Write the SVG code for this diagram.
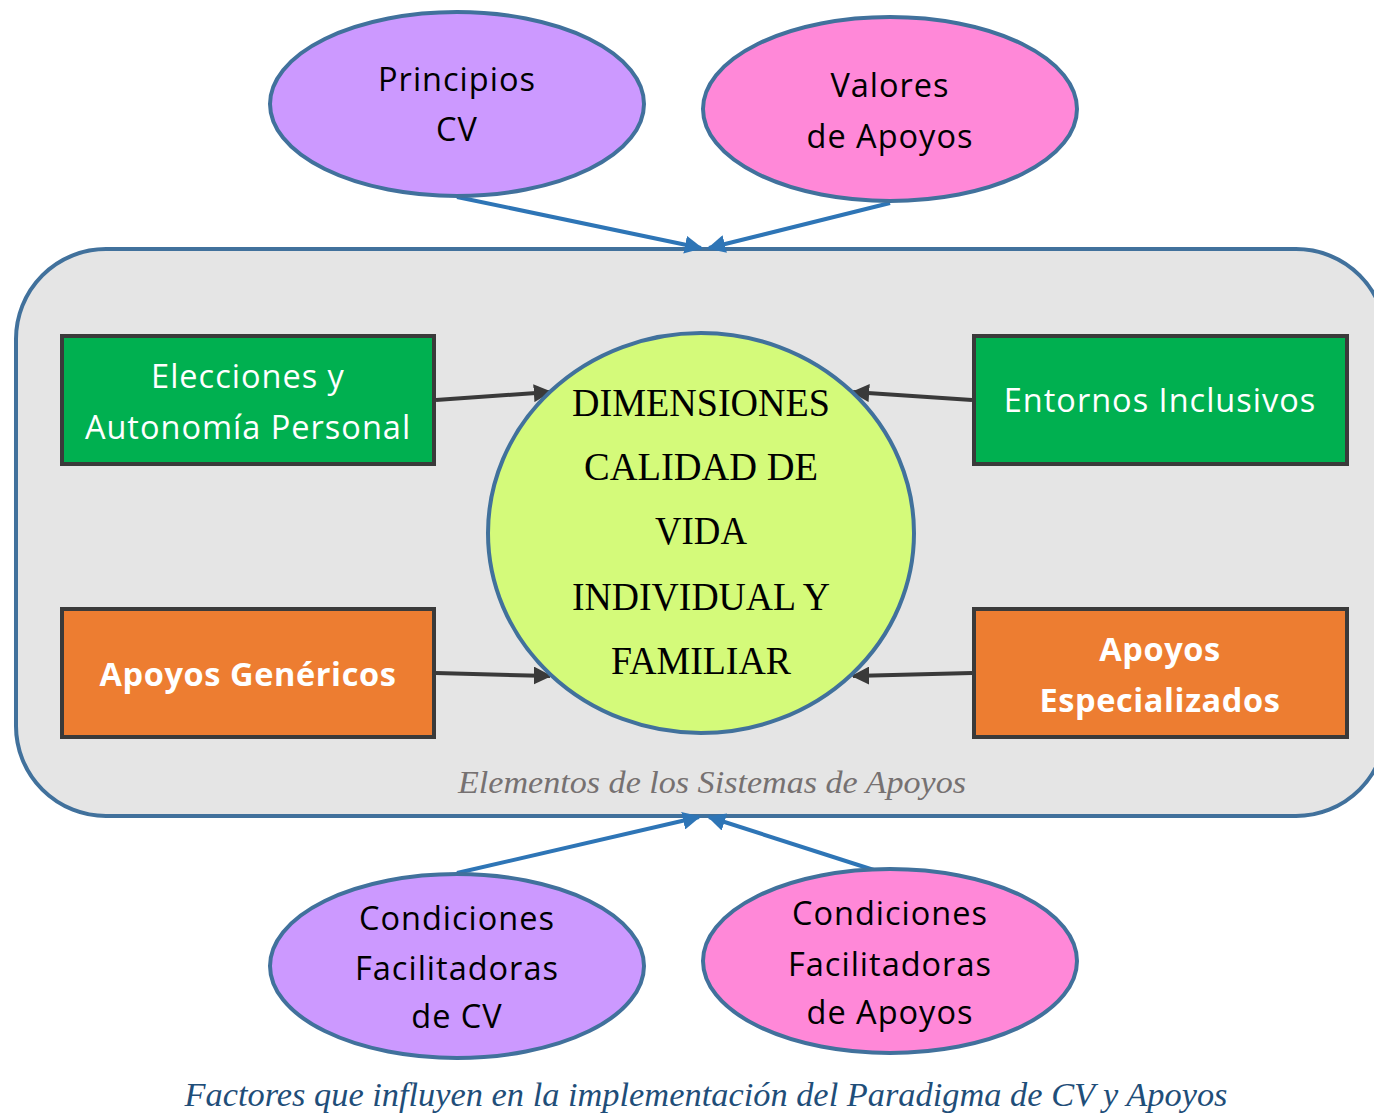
<svg xmlns="http://www.w3.org/2000/svg" width="1374" height="1117" viewBox="0 0 1374 1117">
<style>
.ell{stroke:#41719c;stroke-width:4}
.box{stroke:#3a3a3a;stroke-width:4}
.t{font-family:"Open Sans","DejaVu Sans",sans-serif;font-size:32.5px;letter-spacing:1px;text-anchor:middle}
.w{fill:#fff}
.b{font-weight:bold;letter-spacing:0.6px}
.blue{stroke:#2e75b6;stroke-width:4;fill:none}
.dark{stroke:#3a3a3a;stroke-width:4;fill:none}
.ctr{font-family:"Liberation Serif","DejaVu Serif",serif;font-size:40px;text-anchor:middle;fill:#000}
</style>
<defs>
<marker id="ab" viewBox="0 0 10 10" refX="9" refY="5" markerWidth="4.5" markerHeight="4.5" orient="auto" markerUnits="strokeWidth"><path d="M0,0L10,5L0,10z" fill="#2e75b6"/></marker>
<marker id="ad" viewBox="0 0 10 10" refX="9" refY="5" markerWidth="4.5" markerHeight="4.5" orient="auto" markerUnits="strokeWidth"><path d="M0,0L10,5L0,10z" fill="#3a3a3a"/></marker>
</defs>
<rect width="1374" height="1117" fill="#fff"/>
<g id="container">
<rect x="16" y="249" width="1370" height="567" rx="90" ry="90" fill="#e5e5e5" stroke="#41719c" stroke-width="4"/>
<text x="712" y="793" font-family="Liberation Serif,DejaVu Serif,serif" font-style="italic" font-size="32" fill="#767171" text-anchor="middle" textLength="508" lengthAdjust="spacingAndGlyphs">Elementos de los Sistemas de Apoyos</text>
</g>
<g id="connectors">
<line class="blue" x1="457" y1="197" x2="701" y2="248" marker-end="url(#ab)"/>
<line class="blue" x1="890" y1="203" x2="709" y2="248" marker-end="url(#ab)"/>
<line class="blue" x1="457" y1="873" x2="699" y2="817" marker-end="url(#ab)"/>
<line class="blue" x1="880" y1="872" x2="709" y2="817" marker-end="url(#ab)"/>
<line class="dark" x1="436" y1="400" x2="550" y2="392" marker-end="url(#ad)"/>
<line class="dark" x1="972" y1="400" x2="853" y2="392" marker-end="url(#ad)"/>
<line class="dark" x1="436" y1="673" x2="550" y2="676" marker-end="url(#ad)"/>
<line class="dark" x1="972" y1="673" x2="853" y2="676" marker-end="url(#ad)"/>
</g>
<g id="principios">
<ellipse class="ell" cx="457" cy="104" rx="187" ry="92" fill="#cc99ff"/>
<text class="t" x="457" y="91">Principios</text>
<text class="t" x="457" y="141">CV</text>
</g>
<g id="valores">
<ellipse class="ell" cx="890" cy="109" rx="187" ry="92" fill="#ff88d8"/>
<text class="t" x="890" y="97">Valores</text>
<text class="t" x="890" y="148">de Apoyos</text>
</g>
<g id="cond-cv">
<ellipse class="ell" cx="457" cy="966" rx="187" ry="92" fill="#cc99ff"/>
<text class="t" x="457" y="930">Condiciones</text>
<text class="t" x="457" y="980">Facilitadoras</text>
<text class="t" x="457" y="1028">de CV</text>
</g>
<g id="cond-apoyos">
<ellipse class="ell" cx="890" cy="961" rx="187" ry="92" fill="#ff88d8"/>
<text class="t" x="890" y="925">Condiciones</text>
<text class="t" x="890" y="976">Facilitadoras</text>
<text class="t" x="890" y="1024">de Apoyos</text>
</g>
<g id="elecciones">
<rect class="box" x="62" y="336" width="372" height="128" fill="#00b050"/>
<text class="t w" x="248" y="388">Elecciones y</text>
<text class="t w" x="248" y="439">Autonomía Personal</text>
</g>
<g id="entornos">
<rect class="box" x="974" y="336" width="373" height="128" fill="#00b050"/>
<text class="t w" x="1160" y="412">Entornos Inclusivos</text>
</g>
<g id="genericos">
<rect class="box" x="62" y="609" width="372" height="128" fill="#ed7d31"/>
<text class="t w b" x="248" y="686">Apoyos Genéricos</text>
</g>
<g id="especializados">
<rect class="box" x="974" y="609" width="373" height="128" fill="#ed7d31"/>
<text class="t w b" x="1160" y="661">Apoyos</text>
<text class="t w b" x="1160" y="712">Especializados</text>
</g>
<g id="dimensiones">
<ellipse class="ell" cx="701" cy="533" rx="213" ry="200" fill="#d4fa7a"/>
<text class="ctr" x="701" y="416" textLength="258" lengthAdjust="spacingAndGlyphs">DIMENSIONES</text>
<text class="ctr" x="701" y="480" textLength="234" lengthAdjust="spacingAndGlyphs">CALIDAD DE</text>
<text class="ctr" x="701" y="544" textLength="92" lengthAdjust="spacingAndGlyphs">VIDA</text>
<text class="ctr" x="701" y="610" textLength="258" lengthAdjust="spacingAndGlyphs">INDIVIDUAL Y</text>
<text class="ctr" x="701" y="674" textLength="180" lengthAdjust="spacingAndGlyphs">FAMILIAR</text>
</g>
<g id="caption">
<text x="706" y="1106" font-family="Liberation Serif,DejaVu Serif,serif" font-style="italic" font-size="34" fill="#1f4e79" text-anchor="middle" textLength="1043" lengthAdjust="spacingAndGlyphs">Factores que influyen en la implementación del Paradigma de CV y Apoyos</text>
</g>
</svg>
